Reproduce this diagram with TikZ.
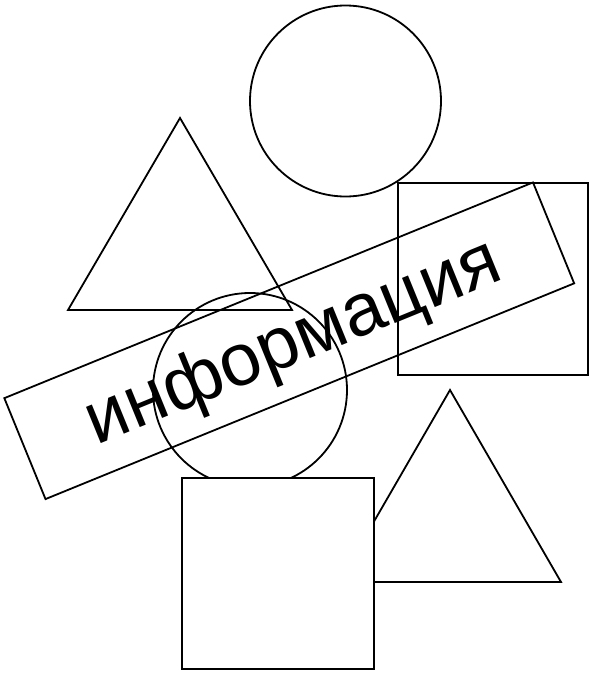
\documentclass[tikz,border=0pt]{standalone}
\usepackage{fontspec}
\setmainfont{Liberation Sans}
\begin{document}
\begin{tikzpicture}[x=1pt,y=-1pt,
  shape line/.style={draw=black,line width=1.8pt},
  label box/.style={shape line,rectangle,rotate=22.2,minimum width=571pt,minimum height=109pt,inner sep=0pt,font=\fontsize{74}{74}\selectfont}]
\useasboundingbox (0,0) rectangle (589,677);
% top circle
\node[shape line,circle,minimum size=191pt,inner sep=0pt] (topcircle) at (345.5,101) {};
% top-left triangle
\draw[shape line,line join=miter] (180,118) -- (292,310) -- (68,310) -- cycle;
% right square
\draw[shape line] (398,183) rectangle (588,375);
% middle circle
\node[shape line,circle,minimum size=194pt,inner sep=0pt] (midcircle) at (250,390) {};
% bottom-right triangle
\draw[shape line,line join=miter] (450,390) -- (561,582) -- (339,582) -- cycle;
% bottom square (covers)
\draw[shape line,fill=white] (182,478) rectangle (374,669);
% rotated label
\node[label box] (info) at (289.25,340.75) {\hspace*{6pt}\raisebox{-5pt}[\height][\depth]{информация}};
\end{tikzpicture}
\end{document}
